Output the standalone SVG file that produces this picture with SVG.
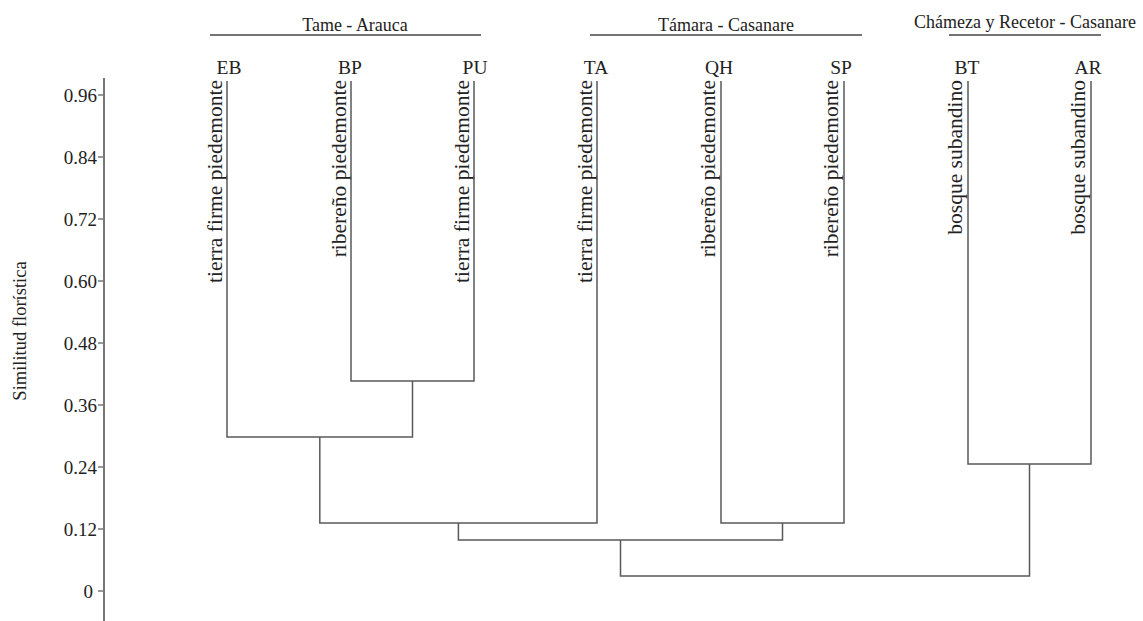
<svg xmlns="http://www.w3.org/2000/svg" width="1143" height="621" viewBox="0 0 1143 621">
<style>
text{font-family:"Liberation Serif","Times New Roman",serif;fill:#222}
.tick{font-size:19px;text-anchor:end}
.hdr{font-size:18px;text-anchor:middle}
.code{font-size:19.5px;text-anchor:middle}
.hab{font-size:21.5px;text-anchor:end}
.axis{stroke:#777;stroke-width:2;fill:none}
.tk{stroke:#777;stroke-width:1.5}
.hl{stroke:#444;stroke-width:1.3}
.br{stroke:#5a5a5a;stroke-width:1.5;fill:none}
</style>
<rect width="1143" height="621" fill="#fff"/>
<g id="axis">
<line class="axis" x1="104" y1="78" x2="104" y2="621"/>
<g class="tk">
<line x1="98" y1="95" x2="104" y2="95"/>
<line x1="98" y1="157" x2="104" y2="157"/>
<line x1="98" y1="219" x2="104" y2="219"/>
<line x1="98" y1="281" x2="104" y2="281"/>
<line x1="98" y1="343" x2="104" y2="343"/>
<line x1="98" y1="405" x2="104" y2="405"/>
<line x1="98" y1="467" x2="104" y2="467"/>
<line x1="98" y1="529" x2="104" y2="529"/>
<line x1="98" y1="591" x2="104" y2="591"/>
</g>
<text class="tick" x="97" y="102">0.96</text>
<text class="tick" x="97" y="164">0.84</text>
<text class="tick" x="97" y="226">0.72</text>
<text class="tick" x="97" y="288">0.60</text>
<text class="tick" x="97" y="350">0.48</text>
<text class="tick" x="97" y="412">0.36</text>
<text class="tick" x="97" y="474">0.24</text>
<text class="tick" x="97" y="536">0.12</text>
<text class="tick" x="93" y="598">0</text>
<text transform="translate(26,331) rotate(-90)" style="font-size:18.5px;text-anchor:middle">Similitud florística</text>
</g>
<g id="group-tame">
<line class="hl" x1="210" y1="35" x2="481" y2="35"/>
<text class="hdr" x="355" y="31">Tame - Arauca</text>
</g>
<g id="group-tamara">
<line class="hl" x1="590" y1="35" x2="862" y2="35"/>
<text class="hdr" x="726" y="31">Támara - Casanare</text>
</g>
<g id="group-chameza">
<line class="hl" x1="949" y1="35" x2="1101" y2="35"/>
<text class="hdr" x="1025" y="28">Chámeza y Recetor - Casanare</text>
</g>
<g id="leaf-EB"><text class="code" x="229" y="74">EB</text><text class="hab" transform="translate(222,80) rotate(-90)">tierra firme piedemonte</text></g>
<g id="leaf-BP"><text class="code" x="350" y="74">BP</text><text class="hab" transform="translate(346,80) rotate(-90)">ribereño piedemonte</text></g>
<g id="leaf-PU"><text class="code" x="475" y="74">PU</text><text class="hab" transform="translate(469,80) rotate(-90)">tierra firme piedemonte</text></g>
<g id="leaf-TA"><text class="code" x="596" y="74">TA</text><text class="hab" transform="translate(592,80) rotate(-90)">tierra firme piedemonte</text></g>
<g id="leaf-QH"><text class="code" x="719" y="74">QH</text><text class="hab" transform="translate(715,80) rotate(-90)">ribereño piedemonte</text></g>
<g id="leaf-SP"><text class="code" x="841" y="74">SP</text><text class="hab" transform="translate(838,80) rotate(-90)">ribereño piedemonte</text></g>
<g id="leaf-BT"><text class="code" x="967" y="74">BT</text><text class="hab" transform="translate(962,80) rotate(-90)">bosque subandino</text></g>
<g id="leaf-AR"><text class="code" x="1088" y="74">AR</text><text class="hab" transform="translate(1085,80) rotate(-90)">bosque subandino</text></g>
<g id="connectors" class="br">
<path d="M351,81 V381 H474 V81"/>
<path d="M227,81 V437 H412.5 V381"/>
<path d="M597,81 V523 H319.8 V437"/>
<path d="M721,81 V523 H844 V81"/>
<path d="M458.4,523 V540 H782.5 V523"/>
<path d="M968,81 V464 H1091 V81"/>
<path d="M620.5,540 V576 H1029.5 V464"/>
</g>
</svg>
